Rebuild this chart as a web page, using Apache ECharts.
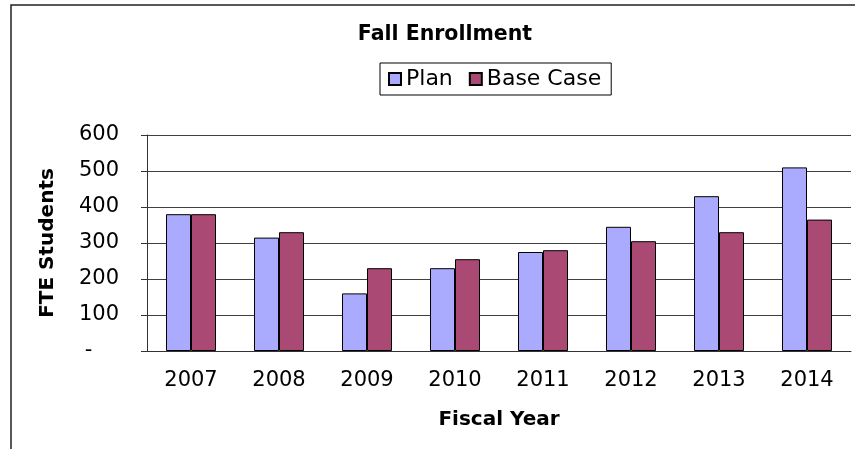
<!DOCTYPE html>
<html>
<head>
<meta charset="utf-8">
<script src="https://cdn.jsdelivr.net/npm/echarts@6/dist/echarts.min.js"></script>
<style>
  html, body { margin: 0; padding: 0; background: #fff; }
  #chart { width: 855px; height: 449px; }
</style>
</head>
<body>
<div id="chart"></div>
<script>
// fiscal years on the x axis
const years = ['2007', '2008', '2009', '2010', '2011', '2012', '2013', '2014']
// FTE students
const planValues = [380, 315, 160, 230, 275, 345, 430, 510]
const baseCaseValues = [380, 330, 230, 255, 280, 305, 330, 365]

const font = 'DejaVu Sans, Verdana, sans-serif'
const chart = echarts.init(document.getElementById('chart'), null, { renderer: 'canvas' })

chart.setOption({
  backgroundColor: '#fff',
  animation: false,
  title: {
    text: 'Fall Enrollment',
    left: 440, top: 19, textAlign: 'center',
    textStyle: { fontFamily: font, fontSize: 20.5, fontWeight: 'bold', color: '#000' },
  },
  legend: {
    left: 380, top: 63,
    padding: [5, 10, 5, 8],
    borderColor: '#000', borderWidth: 1,
    icon: 'rect',
    itemWidth: 12, itemHeight: 12, itemGap: 16,
    textStyle: { fontFamily: font, fontSize: 22, color: '#000' },
    data: ['Plan', 'Base Case'],
  },
  graphic: [{
    type: 'rect', silent: true,
    shape: { x: 11, y: 5, width: 900, height: 500 },
    style: { fill: 'none', stroke: '#222', lineWidth: 1.5 },
  }],
  grid: { left: 147, right: 4, top: 135, bottom: 98 },
  xAxis: {
    type: 'category', data: years,
    name: 'Fiscal Year', nameLocation: 'middle', nameGap: 59,
    nameTextStyle: { fontFamily: font, fontSize: 20, fontWeight: 'bold', color: '#000' },
    axisLine: { lineStyle: { color: '#333', width: 1 } },
    axisTick: { length: 6, lineStyle: { color: '#333' } },
    axisLabel: { fontFamily: font, fontSize: 21, color: '#000', margin: 19 },
  },
  yAxis: {
    type: 'value', min: 0, max: 600, interval: 100,
    name: 'FTE Students', nameLocation: 'middle', nameGap: 89,
    nameTextStyle: { fontFamily: font, fontSize: 20, fontWeight: 'bold', color: '#000' },
    axisLine: { show: true, lineStyle: { color: '#333', width: 1 } },
    axisTick: { show: true, length: 6, lineStyle: { color: '#333' } },
    axisLabel: {
      fontFamily: font, fontSize: 21, color: '#000', margin: 28,
      formatter: v => v === 0 ? '-    ' : String(v),
    },
    splitLine: { lineStyle: { color: '#404040', width: 1.2 } },
  },
  series: [
    {
      name: 'Plan', type: 'bar', data: planValues,
      barWidth: 25, barGap: '0%',
      itemStyle: { color: '#aaabff', borderColor: '#000', borderWidth: 1 },
    },
    {
      name: 'Base Case', type: 'bar', data: baseCaseValues,
      barWidth: 25,
      itemStyle: { color: '#aa4973', borderColor: '#000', borderWidth: 1 },
    },
  ],
})
</script>
</body>
</html>
